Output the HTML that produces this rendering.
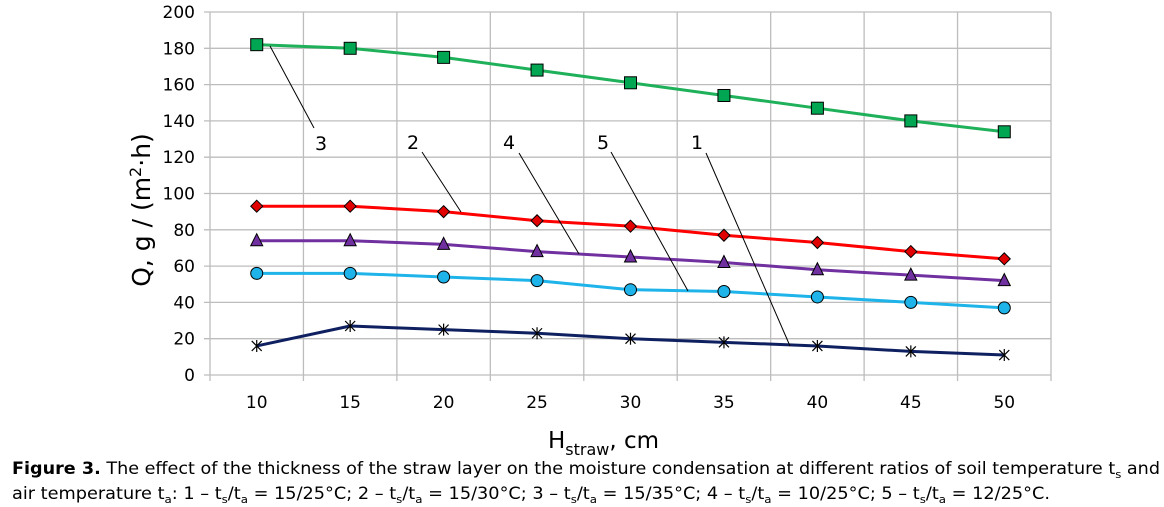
<!DOCTYPE html>
<html><head><meta charset="utf-8"><style>
html,body{margin:0;padding:0;background:#fff;}
svg{display:block;font-family:"DejaVu Sans","Liberation Sans",sans-serif;}
</style></head><body>
<svg id="chart" width="1164" height="507" viewBox="0 0 1164 507" xmlns="http://www.w3.org/2000/svg">
<g id="grid"></g>
<g id="axes"></g>
<g id="series"></g>
<g id="labels"></g>
<text transform="translate(150,210) rotate(-90)" text-anchor="middle" font-size="25" font-family="DejaVu Sans,sans-serif" fill="#000">Q, g / (m<tspan font-size="16" dy="-9">2</tspan><tspan dy="9">·h)</tspan></text>
<text x="548" y="448" font-size="23" fill="#000">H<tspan font-size="16" dy="7">straw</tspan><tspan dy="-7">, cm</tspan></text>
<text x="12" y="474" font-size="16.5" textLength="1148" lengthAdjust="spacingAndGlyphs" fill="#000"><tspan font-weight="bold">Figure 3.</tspan> The effect of the thickness of the straw layer on the moisture condensation at different ratios of soil temperature t<tspan font-size="11" dy="4">s</tspan><tspan dy="-4"> and</tspan></text>
<text x="12" y="499" font-size="16.5" textLength="1038" lengthAdjust="spacingAndGlyphs" fill="#000">air temperature t<tspan font-size="11" dy="4">a</tspan><tspan dy="-4">: 1 – t</tspan><tspan font-size="11" dy="4">s</tspan><tspan dy="-4">/t</tspan><tspan font-size="11" dy="4">a</tspan><tspan dy="-4"> = 15/25°C; 2 – t</tspan><tspan font-size="11" dy="4">s</tspan><tspan dy="-4">/t</tspan><tspan font-size="11" dy="4">a</tspan><tspan dy="-4"> = 15/30°C; 3 – t</tspan><tspan font-size="11" dy="4">s</tspan><tspan dy="-4">/t</tspan><tspan font-size="11" dy="4">a</tspan><tspan dy="-4"> = 15/35°C; 4 – t</tspan><tspan font-size="11" dy="4">s</tspan><tspan dy="-4">/t</tspan><tspan font-size="11" dy="4">a</tspan><tspan dy="-4"> = 10/25°C; 5 – t</tspan><tspan font-size="11" dy="4">s</tspan><tspan dy="-4">/t</tspan><tspan font-size="11" dy="4">a</tspan><tspan dy="-4"> = 12/25°C.</tspan></text>
</svg>
<script>
const categories = [10, 15, 20, 25, 30, 35, 40, 45, 50];
const yTicks = [0, 20, 40, 60, 80, 100, 120, 140, 160, 180, 200];
const series1 = [16, 27, 25, 23, 20, 18, 16, 13, 11];
const series2 = [93, 93, 90, 85, 82, 77, 73, 68, 64];
const series3 = [182, 180, 175, 168, 161, 154, 147, 140, 134];
const series4 = [74, 74, 72, 68, 65, 62, 58, 55, 52];
const series5 = [56, 56, 54, 52, 47, 46, 43, 40, 37];
const seriesNames = ["1", "2", "3", "4", "5"];

const NS = "http://www.w3.org/2000/svg";
const L = 210, R = 1051, T = 12, B = 375, YMAX = 200;
const band = (R - L) / categories.length;
function xs(i) { return L + band * (i + 0.5); }
function ys(v) { return B - (v / YMAX) * (B - T); }
function mk(tag, attrs, parent) {
  const e = document.createElementNS(NS, tag);
  for (const k in attrs) e.setAttribute(k, attrs[k]);
  parent.appendChild(e);
  return e;
}
const grid = document.getElementById("grid");
const axes = document.getElementById("axes");
const ser = document.getElementById("series");
const lab = document.getElementById("labels");

yTicks.forEach(t => {
  const ln = mk("line", {x1: L - 6, x2: R, y1: ys(t), y2: ys(t), stroke: "#bdbdbd", "stroke-width": 1.3}, grid);
  
  
  const tx = mk("text", {x: 195, y: ys(t) + 6, "text-anchor": "end", "font-size": 17, fill: "#000"}, axes);
  tx.textContent = t;
  
  
});
for (let i = 0; i <= categories.length; i++) {
  const x = L + band * i;
  const ln = mk("line", {x1: x, x2: x, y1: T, y2: B + 6, stroke: "#bdbdbd", "stroke-width": 1.3}, grid);
  
  
}
categories.forEach((c, i) => {
  const tx = mk("text", {x: xs(i), y: 408, "text-anchor": "middle", "font-size": 17, fill: "#000"}, axes);
  tx.textContent = c;
  
  
});

function drawLine(data, color, name) {
  const p = mk("polyline", {points: data.map((v, i) => xs(i) + "," + ys(v)).join(" "), fill: "none", stroke: color, "stroke-width": 3, "stroke-linejoin": "round"}, ser);
  
  
}
drawLine(series3, "#1fb05a", "series-3");
drawLine(series2, "#ff0000", "series-2");
drawLine(series4, "#7030a0", "series-4");
drawLine(series5, "#1eb4ea", "series-5");
drawLine(series1, "#0f2060", "series-1");

series3.forEach((v, i) => {
  const m = mk("rect", {x: xs(i) - 6, y: ys(v) - 6, width: 12, height: 12, fill: "#00a651", stroke: "#000", "stroke-width": 1}, ser);
  
  
});
series2.forEach((v, i) => {
  const x = xs(i), y = ys(v);
  const m = mk("polygon", {points: `${x},${y-6} ${x+6},${y} ${x},${y+6} ${x-6},${y}`, fill: "#e00000", stroke: "#000", "stroke-width": 1}, ser);
  
  
});
series4.forEach((v, i) => {
  const x = xs(i), y = ys(v);
  const m = mk("polygon", {points: `${x},${y-7} ${x+6},${y+5} ${x-6},${y+5}`, fill: "#7030a0", stroke: "#000", "stroke-width": 1}, ser);
  
  
});
series5.forEach((v, i) => {
  const m = mk("circle", {cx: xs(i), cy: ys(v), r: 6, fill: "#1eb4ea", stroke: "#000", "stroke-width": 1}, ser);
  
  
});
series1.forEach((v, i) => {
  const x = xs(i), y = ys(v);
  const m = mk("path", {d: `M${x-5},${y-5}L${x+5},${y+5}M${x-5},${y+5}L${x+5},${y-5}M${x},${y-6}L${x},${y+6}`, stroke: "#000", "stroke-width": 1.2, fill: "none"}, ser);
  
  
});

const leaders = [
  {t: "3", tx: 321, ty: 150, x1: 314, y1: 128, x2: 270, y2: 46},
  {t: "2", tx: 413, ty: 149, x1: 422, y1: 152, x2: 461, y2: 212},
  {t: "4", tx: 509, ty: 149, x1: 519, y1: 153, x2: 579, y2: 254},
  {t: "5", tx: 603, ty: 149, x1: 611, y1: 152, x2: 688, y2: 291},
  {t: "1", tx: 697, ty: 149, x1: 706, y1: 153, x2: 790, y2: 346}
];
leaders.forEach(l => {
  const ln = mk("line", {x1: l.x1, y1: l.y1, x2: l.x2, y2: l.y2, stroke: "#000", "stroke-width": 1}, lab);
  
  
  const tx = mk("text", {x: l.tx, y: l.ty, "text-anchor": "middle", "font-size": 19, fill: "#000"}, lab);
  tx.textContent = l.t;
  
  
});
</script>
</body></html>
